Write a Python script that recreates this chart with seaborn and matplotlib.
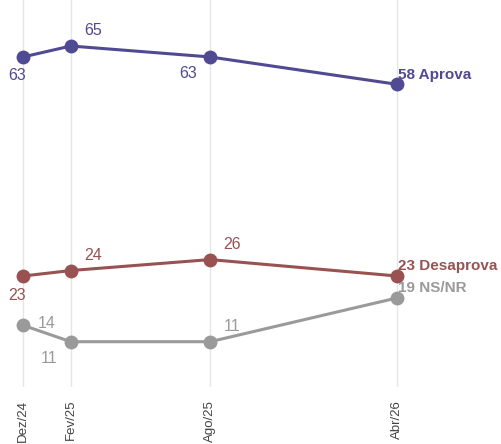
import seaborn as sns
import matplotlib.pyplot as plt
import pandas as pd

# survey waves
dates = ["2024-12-01", "2025-02-01", "2025-08-01", "2026-04-01"]
tick_labels = ["Dez/24", "Fev/25", "Ago/25", "Abr/26"]

aprova = [63, 65, 63, 58]
desaprova = [23, 24, 26, 23]
nsnr = [14, 11, 11, 19]

series_names = ["Aprova", "Desaprova", "NS/NR"]
colors = {"Aprova": "#4f4a92", "Desaprova": "#985252", "NS/NR": "#9a9a9a"}

# label offsets (points) for each point label, per series
offsets = {
    "Aprova": [(-4, -13), (16, 11), (-16, -12)],
    "Desaprova": [(-4, -14), (16, 11), (16, 11)],
    "NS/NR": [(17, 1), (-16, -12), (16, 11)],
}


def build_frame():
    rows = []
    for name, vals in zip(series_names, [aprova, desaprova, nsnr]):
        for d, v in zip(dates, vals):
            rows.append({"data": pd.Timestamp(d), "serie": name, "valor": v})
    return pd.DataFrame(rows)


def plot_chart(df):
    sns.set_theme(style="white")
    plt.rcParams["font.family"] = ["Liberation Sans", "DejaVu Sans"]

    fig = plt.figure(figsize=(5.01, 4.44), dpi=100)
    ax = fig.add_axes([0, 0.128, 1, 0.872])

    sns.lineplot(data=df, x="data", y="valor", hue="serie",
                 palette=colors, marker="o", markersize=10, markeredgewidth=0,
                 linewidth=2.2, legend=False, ax=ax, clip_on=False)

    for name in series_names:
        sub = df[df["serie"] == name].reset_index(drop=True)
        c = colors[name]
        for i in range(len(sub) - 1):
            dx, dy = offsets[name][i]
            ax.annotate(str(sub.loc[i, "valor"]), (sub.loc[i, "data"], sub.loc[i, "valor"]),
                        xytext=(dx, dy), textcoords="offset points",
                        ha="center", va="center", fontsize=11.5, color=c)
        last = sub.iloc[-1]
        ax.annotate(f"{last['valor']} {name}", (last["data"], last["valor"]),
                    xytext=(1, 7), textcoords="offset points",
                    ha="left", va="center", fontsize=11, fontweight="bold", color=c)

    date_ts = pd.to_datetime(dates)
    ax.set_xticks(date_ts)
    ax.set_xticklabels(tick_labels, rotation=90, fontsize=9.5, color="#444444")
    ax.tick_params(axis="x", length=0, pad=9)
    ax.set_yticks([])
    ax.grid(axis="x", color="#e6e6e6", linewidth=1)
    ax.grid(axis="y", visible=False)
    for s in ax.spines.values():
        s.set_visible(False)

    ax.set_xlim(pd.Timestamp("2024-11-01"), pd.Timestamp("2024-11-01") + pd.Timedelta(days=651))
    ax.set_ylim(2.7, 73.4)
    ax.set_xlabel("")
    ax.set_ylabel("")

    fig.savefig("out.png", dpi=100)


def main():
    df = build_frame()
    plot_chart(df)


if __name__ == "__main__":
    main()
